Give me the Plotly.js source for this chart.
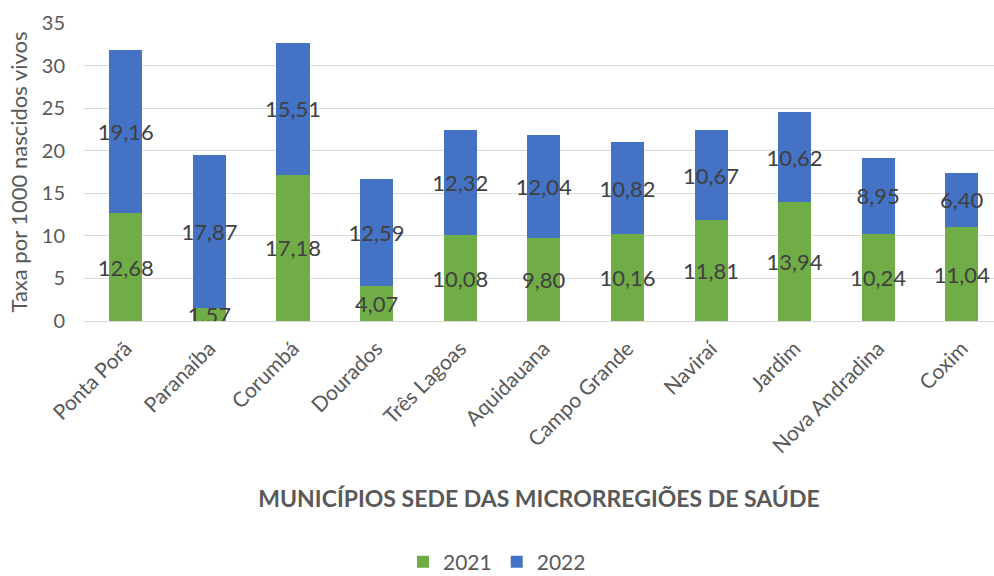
<!DOCTYPE html>
<html>
<head>
<meta charset="utf-8">
<script src="https://cdn.plot.ly/plotly-3.0.1.min.js"></script>
<style>html,body{margin:0;padding:0;background:#fff}#chart{width:994px;height:576px}</style>
</head>
<body>
<div id="chart"></div>
<script>
const categories = ["Ponta Porã","Paranaíba","Corumbá","Dourados","Três Lagoas","Aquidauana","Campo Grande","Naviraí","Jardim","Nova Andradina","Coxim"];
const values2021 = [12.68,1.57,17.18,4.07,10.08,9.80,10.16,11.81,13.94,10.24,11.04];
const values2022 = [19.16,17.87,15.51,12.59,12.32,12.04,10.82,10.67,10.62,8.95,6.40];
const seriesNames = ["2021","2022"];
const yTicks = [0,5,10,15,20,25,30,35];

const FONT = "Lato, 'Open Sans', sans-serif";
const common = {
  type: 'bar',
  x: categories,
  width: 0.395,
  texttemplate: '%{y:.2f}',
  textposition: 'inside',
  insidetextanchor: 'middle',
  textangle: 0,
  constraintext: 'none',
  insidetextfont: {family: FONT, size: 22, color: '#404040'},
  hoverinfo: 'skip'
};
const data = [
  Object.assign({}, common, {name: seriesNames[0], y: values2021, marker: {color: '#70AD47'}}),
  Object.assign({}, common, {name: seriesNames[1], y: values2022, marker: {color: '#4472C4'}})
];
const layout = {
  width: 994, height: 576,
  margin: {l: 84, r: 0, t: 23, b: 255},
  barmode: 'stack',
  separators: ',.',
  paper_bgcolor: '#fff', plot_bgcolor: '#fff',
  font: {family: FONT, color: '#595959', size: 20},
  xaxis: {
    range: [-0.5, 10.385],
    tickangle: -45,
    tickfont: {family: FONT, size: 21, color: '#595959'},
    showgrid: false,
    showline: true, linecolor: '#d9d9d9', linewidth: 1,
    ticks: '',
    ticklabelstandoff: 6,
    automargin: false,
    title: {text: '<b>MUNICÍPIOS SEDE DAS MICRORREGIÕES DE SAÚDE</b>', font: {family: FONT, size: 23, color: '#595959'}, standoff: 34}
  },
  yaxis: {
    range: [0, 35],
    tickvals: yTicks,
    tickfont: {family: FONT, size: 20, color: '#595959'},
    gridcolor: '#d9d9d9', gridwidth: 1,
    zeroline: false,
    ticklabelstandoff: 18,
    automargin: false,
    title: {text: 'Taxa por 1000 nascidos vivos', font: {family: FONT, size: 22, color: '#595959'}, standoff: 8}
  },
  showlegend: true,
  legend: {
    orientation: 'h', xref: 'container', yref: 'container',
    x: 0.5, xanchor: 'center', y: 0.024, yanchor: 'middle',
    font: {family: FONT, size: 21, color: '#595959'},
    traceorder: 'normal', itemwidth: 30
  }
};
Plotly.newPlot('chart', data, layout, {displayModeBar: false, staticPlot: true});
</script>
</body>
</html>
